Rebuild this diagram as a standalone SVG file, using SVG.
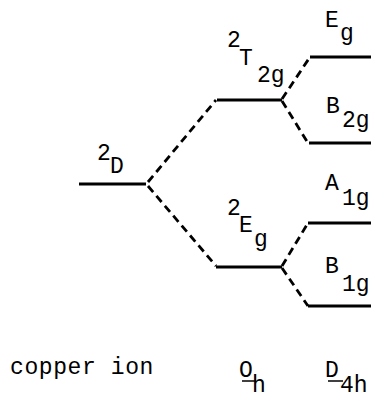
<svg xmlns="http://www.w3.org/2000/svg" width="371" height="398" viewBox="0 0 371 398">
<style>
.lvl{stroke:#000;stroke-width:3;fill:none}
.dash{stroke:#000;stroke-width:2.8;fill:none;stroke-dasharray:8 5}
text{font-family:"Liberation Mono","DejaVu Sans Mono",monospace;font-size:23px;fill:#000}
.ul{stroke:#000;stroke-width:1.5}
</style>
<rect width="371" height="398" fill="#fff"/>
<g id="connectors">
<line class="dash" x1="148" y1="182" x2="216" y2="100"/>
<line class="dash" x1="148" y1="186" x2="216" y2="266"/>
<line class="dash" x1="282" y1="99" x2="310" y2="57"/>
<line class="dash" x1="282" y1="101" x2="308" y2="143"/>
<line class="dash" x1="282" y1="266" x2="308" y2="223"/>
<line class="dash" x1="282" y1="268" x2="308" y2="306"/>
</g>
<g id="D">
<line class="lvl" x1="79" y1="184" x2="146" y2="184"/>
<text x="97" y="160">2</text><text x="110" y="173">D</text>
</g>
<g id="T2g">
<line class="lvl" x1="217" y1="100" x2="282" y2="100"/>
<text x="227" y="47">2</text><text x="239" y="65">T</text><text x="257" y="82">2g</text>
</g>
<g id="Eg_Oh">
<line class="lvl" x1="216" y1="267" x2="282" y2="267"/>
<text x="227" y="215">2</text><text x="239" y="232">E</text><text x="254" y="246">g</text>
</g>
<g id="Eg">
<line class="lvl" x1="310" y1="57" x2="371" y2="57"/>
<text x="325" y="27">E</text><text x="340" y="40">g</text>
</g>
<g id="B2g">
<line class="lvl" x1="309" y1="143" x2="371" y2="143"/>
<text x="326" y="113">B</text><text x="342" y="127">2g</text>
</g>
<g id="A1g">
<line class="lvl" x1="308" y1="223" x2="371" y2="223"/>
<text x="325" y="190">A</text><text x="342" y="205">1g</text>
</g>
<g id="B1g">
<line class="lvl" x1="308" y1="306" x2="371" y2="306"/>
<text x="325" y="273">B</text><text x="342" y="291">1g</text>
</g>
<g id="labels">
<text x="10" y="374" style="letter-spacing:0.6px">copper ion</text>
<text x="239" y="377">O</text><text x="252" y="392">h</text>
<line class="ul" x1="242" y1="381" x2="256" y2="381"/>
<text x="325" y="377">D</text><text x="340" y="392">4h</text>
<line class="ul" x1="328" y1="381" x2="343" y2="381"/>
</g>
</svg>
